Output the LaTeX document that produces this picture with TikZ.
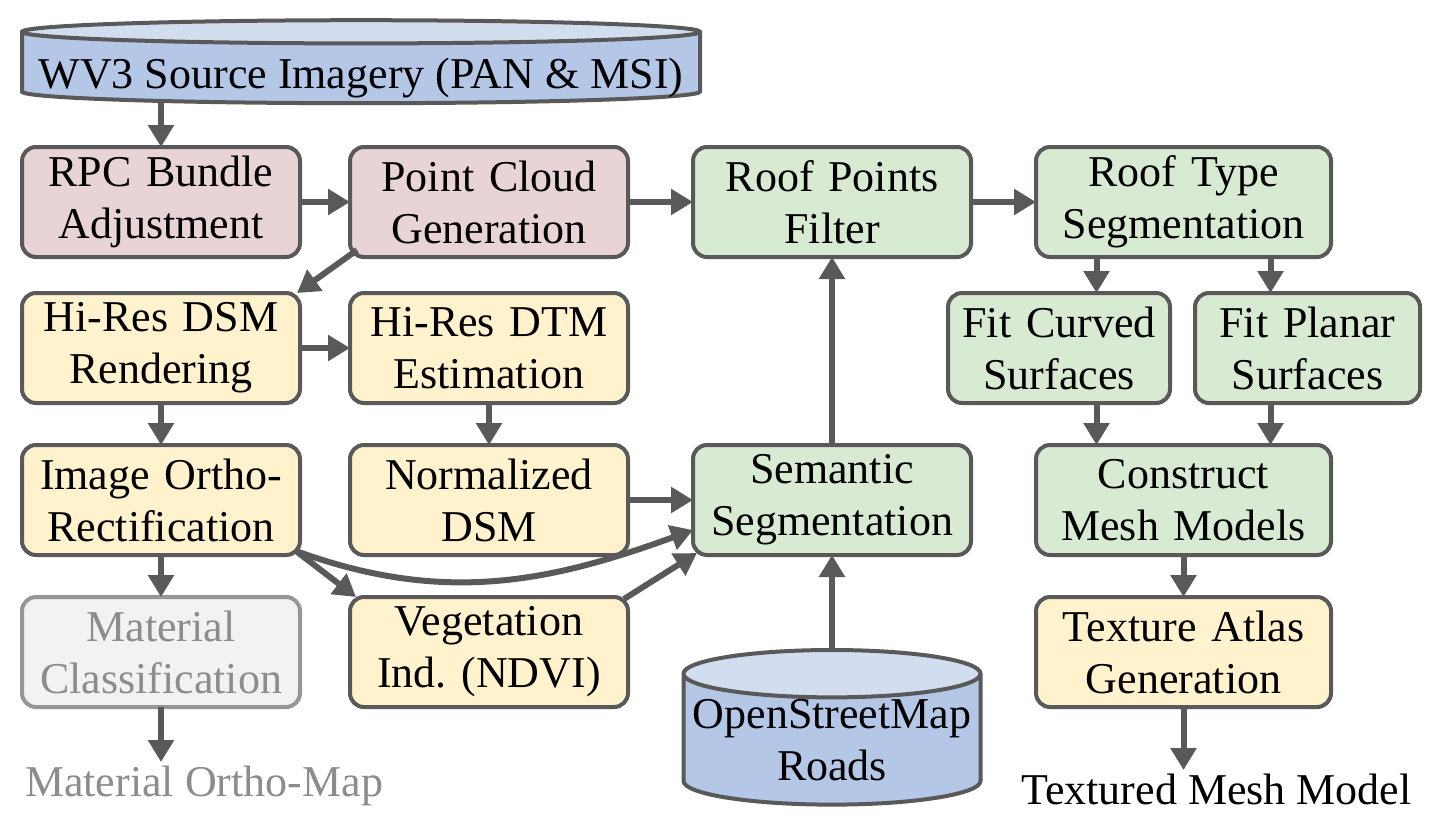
\documentclass[tikz,border=0pt]{standalone}
\usepackage{fontspec}
\setmainfont{Liberation Serif}
\usetikzlibrary{shapes.geometric, arrows.meta, positioning, calc}

\definecolor{linegray}{RGB}{89,89,89}
\definecolor{prepred}{RGB}{232,212,212}
\definecolor{rastyellow}{RGB}{255,242,204}
\definecolor{modgreen}{RGB}{217,234,211}
\definecolor{srcblue}{RGB}{180,199,231}
\definecolor{srctop}{RGB}{210,222,240}
\definecolor{ghostfill}{RGB}{242,242,242}
\definecolor{ghostline}{RGB}{150,150,150}
\definecolor{ghosttext}{RGB}{140,140,140}

\begin{document}
\begin{tikzpicture}[
  font=\fontsize{22}{26}\selectfont,
  box/.style={rectangle, rounded corners=7pt, draw=linegray, line width=2pt, text width=135pt, minimum height=55pt, align=center, inner sep=2pt, outer sep=0pt},
  prep/.style={box, fill=prepred},
  raster/.style={box, fill=rastyellow},
  model/.style={box, fill=modgreen},
  ghost/.style={box, fill=ghostfill, draw=ghostline, text=ghosttext},
  source/.style={cylinder, shape border rotate=90, draw=linegray, line width=2pt, cylinder uses custom fill, cylinder body fill=srcblue, cylinder end fill=srctop, align=center, inner sep=0pt, outer sep=0pt},
  outtext/.style={inner sep=0pt},
  arrow/.style={-{Triangle[width=12.5pt,length=11pt]}, line width=3pt, draw=linegray}
]
  \useasboundingbox (0,0) rectangle (717pt,-413pt);

  % sources
  \node[source, minimum width=339pt, minimum height=41.5pt, aspect=0.036] (wv3) at (180.5pt,-34.25pt) {\raisebox{-4.5pt}[\height][\depth]{WV3 Source Imagery (PAN \& MSI)}};

  % left part: DSM and ortho products
  \node[prep] (rpc) at (80.5pt,-101pt) {RPC Bundle\\Adjustment};
  \node[prep, right=25pt of rpc] (pcgen) {Point Cloud\\Generation};
  \node[raster, below=18pt of rpc] (dsm) {Hi-Res DSM\\Rendering};
  \node[raster, right=25pt of dsm] (dtm) {Hi-Res DTM\\Estimation};
  \node[raster, below=21pt of dsm] (ortho) {Image Ortho-\\Rectification};
  \node[raster, right=25pt of ortho] (ndsm) {Normalized\\DSM};
  \node[ghost, below=21pt of ortho] (matcls) {Material\\Classification};
  \node[raster, right=25pt of matcls] (veg) {Vegetation\\Ind.\ (NDVI)};
  \node[outtext, text=ghosttext, below=29.5pt of matcls, xshift=21.5pt] (matout) {Material Ortho-Map};

  % right part: building models
  \node[model, right=32.5pt of pcgen] (rooffilt) {Roof Points\\Filter};
  \node[model, right=32.5pt of rooffilt, text width=143.5pt] (rooftype) {Roof Type\\Segmentation};
  \node[model, right=32.5pt of ndsm] (semseg) {Semantic\\Segmentation};
  \node[source, below=47.5pt of semseg, minimum width=148.5pt, minimum height=75pt, aspect=0.17] (osm) {OpenStreetMap\\Roads};
  \node[model, below=18pt of rooftype, xshift=-62.25pt, text width=107pt] (fitcurv) {Fit Curved\\Surfaces};
  \node[model, below=18pt of rooftype, xshift=62pt, text width=108.5pt] (fitplan) {Fit Planar\\Surfaces};
  \node[model, right=32.5pt of semseg, text width=143.5pt] (constr) {Construct\\Mesh Models};
  \node[raster, below=21pt of constr, text width=143.5pt] (texatl) {Texture Atlas\\Generation};
  \node[outtext, below=33.5pt of texatl, xshift=16.5pt] (meshout) {Textured Mesh Model};

  \coordinate (curvx) at ($(rooftype.south)+(-43.5pt,0)$);
  \coordinate (planx) at ($(rooftype.south)+(43.5pt,0)$);

  \draw[arrow] (wv3.south -| rpc) -- (rpc);
  \draw[arrow] (rpc) -- (pcgen);
  \draw[arrow] (pcgen) -- (rooffilt);
  \draw[arrow] (rooffilt) -- (rooftype);
  \draw[arrow] ($(pcgen.south west)+(3.5pt,3.5pt)$) -- ($(dsm.north east)+(-1.5pt,0pt)$);
  \draw[arrow] (dsm) -- (dtm);
  \draw[arrow] (dsm) -- (ortho);
  \draw[arrow] (dtm) -- (ndsm);
  \draw[arrow] (ortho) -- (matcls);
  \draw[arrow, shorten >=2pt] (matcls) -- (matcls |- matout.north);
  \draw[arrow] ($(ortho.south east)+(-2pt,2pt)$) -- ($(veg.north west)+(3pt,0pt)$);
  \draw[arrow] (ndsm) -- (semseg);
  \draw[arrow] ($(ortho.south east)+(-2pt,2pt)$) to[out=-20, in=200] ($(semseg.west)+(0,-15pt)$);
  \draw[arrow] ($(veg.north east)+(-2pt,-1pt)$) -- ($(semseg.south west)+(2pt,1pt)$);
  \draw[arrow] (osm) -- (semseg);
  \draw[arrow] (semseg) -- (rooffilt);
  \draw[arrow] (curvx) -- (curvx |- fitcurv.north);
  \draw[arrow] (planx) -- (planx |- fitplan.north);
  \draw[arrow] (curvx |- fitcurv.south) -- (curvx |- constr.north);
  \draw[arrow] (planx |- fitplan.south) -- (planx |- constr.north);
  \draw[arrow] (constr) -- (texatl);
  \draw[arrow, shorten >=2pt] (texatl) -- (texatl |- meshout.north);
\end{tikzpicture}
\end{document}
